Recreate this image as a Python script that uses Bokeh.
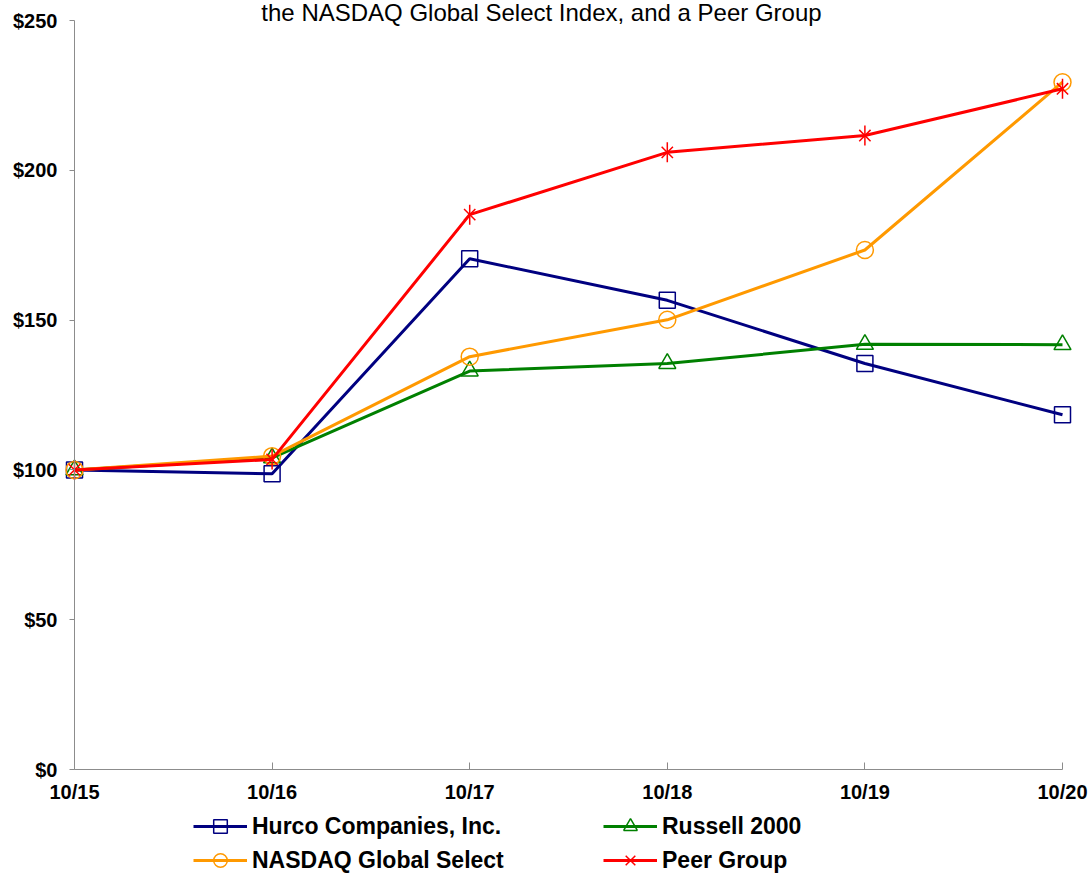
import math
from bokeh.plotting import figure
from bokeh.models import Range1d, FixedTicker, Legend, LegendItem, Label, NumeralTickFormatter
from bokeh.embed import file_html
from bokeh.resources import INLINE

years = ["10/15", "10/16", "10/17", "10/18", "10/19", "10/20"]
hurco = [100, 98.7, 170.5, 156.6, 135.5, 118.4]
russell = [100, 104.0, 133.0, 135.5, 141.9, 141.8]
nasdaq = [100, 104.6, 137.8, 150.1, 173.4, 229.4]
peer = [100, 103.5, 185.2, 206.0, 211.6, 227.2]
y_ticks = [0, 50, 100, 150, 200, 250]
title_text = "the NASDAQ Global Select Index, and a Peer Group"
labels = ["Hurco Companies, Inc.", "Russell 2000", "NASDAQ Global Select", "Peer Group"]

NAVY = "#000080"
GREEN = "#008000"
ORANGE = "#FF9900"
RED = "#FF0000"
AXIS = "#8c8c8c"
FONT = "Liberation Sans"

# canvas geometry (pixels) of the plotting area inside the full-canvas frame
W, H = 1091, 873
X0_PX, X1_PX = 74, 1062     # pixel columns of first / last category
Y0_PX, YT_PX = 769, 20      # pixel rows of $0 / $250
n = len(years)
y_top = y_ticks[-1]
ppx = (X1_PX - X0_PX) / (n - 1)
ppy = (Y0_PX - YT_PX) / y_top
x_lo, x_hi = -X0_PX / ppx, (n - 1) + (W - X1_PX) / ppx
y_lo, y_hi = -(H - Y0_PX) / ppy, y_top + YT_PX / ppy

xs = list(range(n))

p = figure(width=W, height=H, output_backend="svg", toolbar_location=None,
           x_range=Range1d(x_lo, x_hi), y_range=Range1d(y_lo, y_hi),
           min_border_left=0, min_border_right=0, min_border_top=0, min_border_bottom=0)
p.outline_line_color = None
p.xgrid.visible = False
p.ygrid.visible = False
p.background_fill_color = "white"
p.border_fill_color = "white"

xa = p.xaxis[0]
xa.fixed_location = 0
xa.bounds = (0, n - 1)
xa.ticker = FixedTicker(ticks=xs)
xa.major_label_overrides = {i: lab for i, lab in enumerate(years)}
xa.axis_line_color = AXIS
xa.major_tick_line_color = AXIS
xa.minor_tick_line_color = None
xa.major_tick_in = 7
xa.major_tick_out = 0
xa.major_label_standoff = 11
xa.major_label_text_font = FONT
xa.major_label_text_font_style = "bold"
xa.major_label_text_font_size = "20px"
xa.major_label_text_color = "black"

ya = p.yaxis[0]
ya.fixed_location = 0
ya.bounds = (0, y_top)
ya.ticker = FixedTicker(ticks=y_ticks)
ya.formatter = NumeralTickFormatter(format="$0")
ya.axis_line_color = AXIS
ya.major_tick_line_color = AXIS
ya.minor_tick_line_color = None
ya.major_tick_in = 0
ya.major_tick_out = 5
ya.major_label_standoff = 12
ya.major_label_text_font = FONT
ya.major_label_text_font_style = "bold"
ya.major_label_text_font_size = "20px"
ya.major_label_text_color = "black"

# Hurco
h_line = p.line(xs, hurco, line_color=NAVY, line_width=3)
h_mark = p.scatter(xs, hurco, marker="square", size=16, line_color=NAVY, fill_color=None, line_width=1.5)
# Russell
r_line = p.line(xs, russell, line_color=GREEN, line_width=3)
r_mark = p.scatter(xs, russell, marker="triangle", size=17, line_color=GREEN, fill_color=None, line_width=1.5)
# NASDAQ
n_line = p.line(xs, nasdaq, line_color=ORANGE, line_width=3)
n_mark = p.scatter(xs, nasdaq, marker="circle", size=17, line_color=ORANGE, fill_color=None, line_width=1.5)
# Peer
pg_line = p.line(xs, peer, line_color=RED, line_width=3)
pg_x = p.scatter(xs, peer, marker="x", size=16, line_color=RED, line_width=1.5)
pg_v = p.scatter(xs, peer, marker="dash", angle=math.pi / 2, size=20, line_color=RED, line_width=1.5)

common = dict(orientation="vertical", glyph_width=54, glyph_height=34, label_height=34,
              label_standoff=5, spacing=0, padding=0, margin=0,
              border_line_color=None, background_fill_alpha=0,
              label_text_font=FONT, label_text_font_style="bold",
              label_text_font_size="23px", label_text_color="black")

leg1 = Legend(items=[LegendItem(label=labels[0], renderers=[h_line, h_mark]),
                     LegendItem(label=labels[2], renderers=[n_line, n_mark])],
              location=(193, -4), **common)
leg2 = Legend(items=[LegendItem(label=labels[1], renderers=[r_line, r_mark]),
                     LegendItem(label=labels[3], renderers=[pg_line, pg_x, pg_v])],
              location=(603, -4), **common)
p.add_layout(leg1)
p.add_layout(leg2)

# title kept fully on the canvas, as high as it fits
title = Label(x=541, y=H - 12, x_units="screen", y_units="screen", text=title_text,
              text_align="center", text_baseline="alphabetic",
              text_font=FONT, text_font_size="24px", text_color="black")
p.add_layout(title)

open("out.html", "w").write(file_html(p, INLINE))
